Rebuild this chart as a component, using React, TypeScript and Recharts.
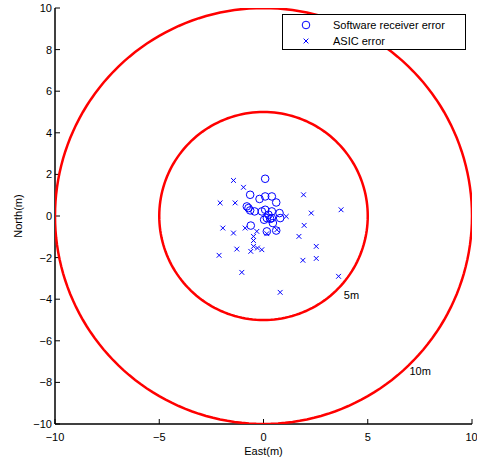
import React from 'react';
import {
  ComposedChart, Scatter, XAxis, YAxis, ReferenceDot, Legend,
} from 'recharts';

const X_TICKS = [-10, -5, 0, 5, 10];
const Y_TICKS = [-10, -8, -6, -4, -2, 0, 2, 4, 6, 8, 10];

const RING_RADII = [5, 10];
const RING_LABELS = ['5m', '10m'];
const RING_LABEL_X = [3.85, 7.0];
const RING_LABEL_Y = [-3.8, -7.45];

const SOFTWARE_X = [0.08, -0.64, -0.19, 0.08, 0.4, 0.61, -0.8, -0.72, -0.64, -0.43, -0.08, 0.08, 0.4, 0.24, 0.16, 0.4, 0.77, 0.8, 0.45, -0.61, 0.16, 0.61, 0.32, 0.03];
const SOFTWARE_Y = [1.79, 1.02, 0.82, 0.94, 0.94, 0.65, 0.46, 0.38, 0.27, 0.22, 0.22, 0.3, 0.22, 0.06, -0.1, -0.1, 0.14, -0.1, -0.34, -0.46, -0.74, -0.7, -0.14, -0.18];

const ASIC_X = [-1.44, -0.96, 1.92, -2.08, -1.36, 2.29, 3.72, 1.09, 1.95, -1.95, -1.44, -0.88, -0.32, -0.48, 0.16, 0.64, 1.7, -0.48, -0.48, -0.29, -0.08, -0.61, -1.28, -2.13, 2.53, 2.53, 1.89, -1.04, 3.6, 0.8];
const ASIC_Y = [1.71, 1.38, 1.02, 0.63, 0.63, 0.14, 0.3, -0.02, -0.45, -0.58, -0.82, -0.58, -0.74, -0.98, -0.85, -0.66, -0.98, -1.18, -1.46, -1.54, -1.62, -1.7, -1.59, -1.89, -1.46, -2.04, -2.13, -2.71, -2.9, -3.67];

const BLUE = '#0000ff';
const RED = '#ff0000';
const FONT = '"Liberation Sans", Arial, sans-serif';

const software = SOFTWARE_X.map((x, i) => ({ x, y: SOFTWARE_Y[i] }));
const asic = ASIC_X.map((x, i) => ({ x, y: ASIC_Y[i] }));

// ring outline built from its radius
function ringPoints(r: number) {
  const pts = [];
  for (let a = 0; a <= 360; a += 2) {
    const t = (a * Math.PI) / 180;
    pts.push({ x: r * Math.cos(t), y: r * Math.sin(t) });
  }
  return pts;
}

const fmt = (v: number) => String(v).replace('-', '\u2212');

function CircleMark(props: any) {
  const { cx, cy } = props;
  return <circle cx={cx} cy={cy} r={3.8} fill="none" stroke={BLUE} strokeWidth={1} />;
}

function CrossMark(props: any) {
  const { cx, cy } = props;
  const s = 2.4;
  return (
    <g stroke={BLUE} strokeWidth={1}>
      <line x1={cx - s} y1={cy - s} x2={cx + s} y2={cy + s} />
      <line x1={cx - s} y1={cy + s} x2={cx + s} y2={cy - s} />
    </g>
  );
}

function LegendBox() {
  return (
    <div
      style={{
        width: 184, height: 36, border: '1px solid #000', background: '#fff',
        fontFamily: FONT, fontSize: 11, color: '#000', boxSizing: 'border-box',
      }}
    >
      <div style={{ display: 'flex', alignItems: 'center', height: 17, marginTop: 1 }}>
        <svg width={50} height={12}>
          <circle cx={23} cy={6} r={3.8} fill="none" stroke={BLUE} strokeWidth={1} />
        </svg>
        <span>Software receiver error</span>
      </div>
      <div style={{ display: 'flex', alignItems: 'center', height: 16 }}>
        <svg width={50} height={12}>
          <g stroke={BLUE} strokeWidth={1}>
            <line x1={20.6} y1={3.6} x2={25.4} y2={8.4} />
            <line x1={20.6} y1={8.4} x2={25.4} y2={3.6} />
          </g>
        </svg>
        <span>ASIC error</span>
      </div>
    </div>
  );
}

const tickStyle = { fill: '#000', fontSize: 11, fontFamily: FONT };

export default function App() {
  return (
    <div style={{ position: 'absolute', left: 0, top: 0, background: '#fff' }}>
      <ComposedChart width={477} height={460} margin={{ top: 8, right: 5, bottom: 6, left: 0 }}>
        <XAxis
          xAxisId="b" dataKey="x" type="number" domain={[-10, 10]} ticks={X_TICKS}
          allowDataOverflow orientation="bottom" height={30}
          tickSize={-5} tickMargin={14} tickFormatter={fmt}
          tick={tickStyle} stroke="#000" axisLine={{ stroke: '#000', strokeWidth: 1.5 }}
          tickLine={{ stroke: '#000' }}
          label={{ value: 'East(m)', position: 'insideBottom', offset: -1, style: { fill: '#000', fontSize: 11, fontFamily: FONT } }}
        />
        <XAxis
          xAxisId="t" dataKey="x" type="number" domain={[-10, 10]} ticks={X_TICKS}
          allowDataOverflow orientation="top" height={0} tickSize={-5} tick={false}
          axisLine={{ stroke: '#000', strokeWidth: 1.5 }} tickLine={{ stroke: '#000' }}
        />
        <YAxis
          yAxisId="l" dataKey="y" type="number" domain={[-10, 10]} ticks={Y_TICKS}
          allowDataOverflow orientation="left" width={55}
          tickSize={-5} tickMargin={8} tickFormatter={fmt}
          tick={tickStyle} axisLine={{ stroke: '#000', strokeWidth: 1.5 }}
          tickLine={{ stroke: '#000' }}
          label={{
            content: ({ viewBox }: any) => {
              const x = viewBox.x + 22;
              const y = viewBox.y + viewBox.height / 2;
              return (
                <text x={x} y={y} transform={`rotate(-90 ${x} ${y})`} textAnchor="middle"
                  fill="#000" fontSize={11} fontFamily={FONT}>North(m)</text>
              );
            },
          }}
        />
        <YAxis
          yAxisId="r" dataKey="y" type="number" domain={[-10, 10]} ticks={Y_TICKS}
          allowDataOverflow orientation="right" width={0} tickSize={-5} tick={false}
          axisLine={{ stroke: '#000', strokeWidth: 1.5 }} tickLine={{ stroke: '#000' }}
        />
        <Legend
          verticalAlign="middle" align="center" layout="vertical"
          wrapperStyle={{ top: 14, left: 282, width: 184 }}
          content={() => <LegendBox />}
        />
        {RING_RADII.map((r) => (
          <Scatter
            key={r} xAxisId="b" yAxisId="l" data={ringPoints(r)}
            line={{ stroke: RED, strokeWidth: 2.5 }} lineType="joint"
            shape={() => <g />} isAnimationActive={false} legendType="none"
          />
        ))}
        <Scatter xAxisId="b" yAxisId="l" name="Software receiver error" data={software}
          shape={<CircleMark />} isAnimationActive={false} />
        <Scatter xAxisId="b" yAxisId="l" name="ASIC error" data={asic}
          shape={<CrossMark />} isAnimationActive={false} />
        {RING_LABELS.map((t, i) => (
          <ReferenceDot
            key={t} xAxisId="b" yAxisId="l" x={RING_LABEL_X[i]} y={RING_LABEL_Y[i]} r={0}
            stroke="none" fill="none"
            label={{ value: t, position: 'right', offset: 0, style: { fill: '#000', fontSize: 11, fontFamily: FONT } }}
          />
        ))}
      </ComposedChart>
    </div>
  );
}
